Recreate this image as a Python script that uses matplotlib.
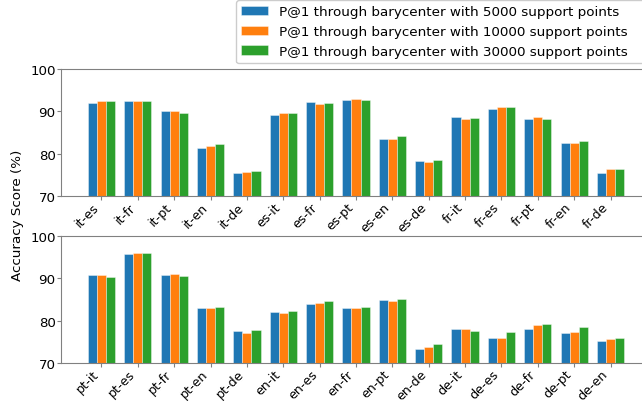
import numpy as np
import matplotlib
matplotlib.use('Agg')
import matplotlib.pyplot as plt

# language pairs
pairs_top = ['it-es', 'it-fr', 'it-pt', 'it-en', 'it-de', 'es-it', 'es-fr', 'es-pt',
             'es-en', 'es-de', 'fr-it', 'fr-es', 'fr-pt', 'fr-en', 'fr-de']
pairs_bottom = ['pt-it', 'pt-es', 'pt-fr', 'pt-en', 'pt-de', 'en-it', 'en-es', 'en-fr',
                'en-pt', 'en-de', 'de-it', 'de-es', 'de-fr', 'de-pt', 'de-en']

# P@1 scores, top panel
top_5000 = [91.9, 92.5, 90.0, 81.4, 75.4, 89.2, 92.2, 92.7, 83.4, 78.2, 88.6, 90.6, 88.2, 82.6, 75.5]
top_10000 = [92.4, 92.5, 90.0, 81.9, 75.6, 89.5, 91.8, 93.0, 83.5, 78.0, 88.2, 91.0, 88.6, 82.6, 76.4]
top_30000 = [92.4, 92.4, 89.7, 82.2, 75.8, 89.5, 92.0, 92.6, 84.1, 78.5, 88.4, 91.0, 88.1, 83.1, 76.4]

# P@1 scores, bottom panel
bot_5000 = [90.8, 95.7, 90.9, 83.0, 77.5, 82.0, 84.0, 82.9, 84.8, 73.3, 78.0, 75.8, 78.0, 77.0, 75.1]
bot_10000 = [90.8, 96.0, 91.1, 82.9, 77.1, 81.8, 84.2, 82.9, 84.6, 73.8, 78.0, 76.0, 78.9, 77.4, 75.6]
bot_30000 = [90.4, 95.9, 90.6, 83.2, 77.9, 82.2, 84.6, 83.3, 85.2, 74.5, 77.5, 77.3, 79.2, 78.4, 76.0]

labels = ['P@1 through barycenter with 5000 support points',
          'P@1 through barycenter with 10000 support points',
          'P@1 through barycenter with 30000 support points']
colors = ['#1f77b4', '#ff7f0e', '#2ca02c']

W, H = 642, 402
fig = plt.figure(figsize=(W / 100, H / 100), dpi=100)
ax1 = fig.add_axes([61 / W, 1 - 197 / H, 590 / W, 127 / H])
ax2 = fig.add_axes([61 / W, 1 - 364 / H, 590 / W, 127 / H])

width = 0.25
edge = (1, 1, 1, 0.45)
for ax, pairs, series in [(ax1, pairs_top, [top_5000, top_10000, top_30000]),
                          (ax2, pairs_bottom, [bot_5000, bot_10000, bot_30000])]:
    x = np.arange(len(pairs))
    for k, (vals, c, lab) in enumerate(zip(series, colors, labels)):
        ax.bar(x + (k - 1) * width, vals, width, color=c, label=lab,
               edgecolor=edge, linewidth=0.6)
    ax.set_ylim(70, 100)
    ax.set_yticks([70, 80, 90, 100])
    ax.set_xticks(x)
    ax.set_xticklabels(pairs, rotation=45, ha='right')
    ax.tick_params(labelsize=9.6, colors='#808080', labelcolor='black',
                   length=3, pad=0.8)
    ax.tick_params(axis='x', labelsize=9.1, pad=0.2)
    for s in ax.spines.values():
        s.set_color('#808080')

fig.text(18 / W, 1 - 215 / H, 'Accuracy Score (%)', rotation=90,
         ha='center', va='center', fontsize=9.7)

# legend box runs past the right edge, as in the cropped original
h, l = ax1.get_legend_handles_labels()
fig.legend(h, l, loc='upper left', bbox_to_anchor=(236 / W, 0, 420 / W, 1 - 1 / H),
           mode='expand', borderaxespad=0, fontsize=9.7, framealpha=1)

fig.savefig('out.png', dpi=100)
